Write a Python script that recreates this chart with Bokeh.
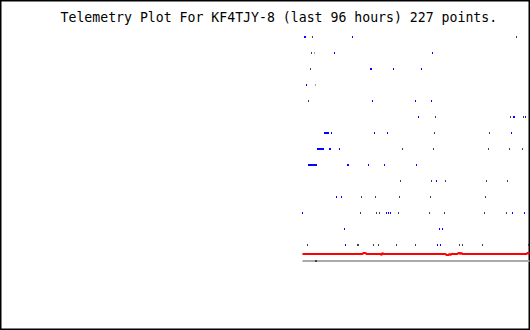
from bokeh.plotting import figure
from bokeh.models import Range1d, Label
from bokeh.embed import file_html
from bokeh.resources import INLINE

TITLE = "Telemetry Plot For KF4TJY-8 (last 96 hours) 227 points."

# time in hours relative to now, value in telemetry level units
blue_t = [-40.85, -40.66, -32.15,
          -35.41, -17.66,
          -28.89, -28.71, -24.72, -19.65,
          -40.48,
          -28.53, -20.74, -17.84,
          -20.20, -2.99, -2.81, -0.82,
          -37.22, -37.04, -36.86, -36.68, -36.50, -35.95, -28.17, -25.81, -3.35,
          -38.49, -38.31, -38.13, -37.95, -37.77, -37.58, -37.40, -36.32, -36.14, -34.51,
          -40.12, -39.94, -39.76, -39.58, -39.40, -39.21, -39.03, -38.85, -38.67, -33.06, -32.88, -29.25, -26.35, -20.56,
          -16.94,
          -35.05, -34.14,
          -41.21, -25.99, -25.63, -25.27, -3.17, -1.00,
          -33.60, -16.39, -15.85,
          -33.42, -16.75, -16.21]
blue_v = [13, 13, 13,
          12, 12,
          11, 11, 11, 11,
          10,
          9, 9, 9,
          8, 8, 8, 8,
          7, 7, 7, 7, 7, 7, 7, 7, 7,
          6, 6, 6, 6, 6, 6, 6, 6, 6, 6,
          5, 5, 5, 5, 5, 5, 5, 5, 5, 5, 5, 5, 5, 5,
          4,
          3, 3,
          2, 2, 2, 2, 2, 2,
          1, 1, 1,
          0, 0, 0]

dark_t = [-39.40, -2.45,
          -39.58,
          -39.76,
          -40.12,
          -17.12, -3.53, -1.18,
          -17.30, -7.34,
          -23.09, -17.48, -7.52, -3.71, -1.36,
          -23.46, -17.84, -15.31, -7.88, -4.08,
          -30.52, -27.98, -23.64, -18.02, -8.06,
          -30.70, -27.80, -27.26, -23.82, -18.20, -15.49, -8.24, -4.26,
          -40.30, -31.25, -31.06, -28.35, -27.44, -24.18, -20.74, -12.77, -12.23, -8.60, -0.27,
          -38.85, -38.67]
dark_v = [13, 13,
          12,
          11,
          9,
          8, 8, 8,
          7, 7,
          6, 6, 6, 6, 6,
          4, 4, 4, 4, 4,
          3, 3, 3, 3, 3,
          2, 2, 2, 2, 2, 2, 2, 2,
          0, 0, 0, 0, 0, 0, 0, 0, 0, 0, 0,
          -1.0, -1.0]

light_t = [-39.03, -38.85]
light_v = [12, 10]

red_t = [-41.21, -30.34, -30.16, -29.80, -29.61, -27.08, -26.90, -26.72, -26.54,
         -15.31, -15.12, -14.76, -14.58, -14.40, -14.22, -13.13, -12.95, -12.77,
         -12.59, -12.41, -12.23, -0.63, -0.45, -0.27, -0.09]
red_v = [-0.5625, -0.5625, -0.5, -0.5, -0.5625, -0.5625, -0.625, -0.5, -0.5625,
         -0.5625, -0.625, -0.625, -0.5625, -0.625, -0.5625, -0.5625, -0.5, -0.5,
         -0.5625, -0.5, -0.5625, -0.5625, -0.5, -0.5, -0.5625]

gray_t = [-41.21, -0.09]
gray_v = [-1.0, -1.0]

# ranges nudged by half a pixel to compensate for the renderer's 0.5px offset
p = figure(width=530, height=330, x_range=Range1d(-95.9094, 0.0906), y_range=Range1d(-5.34375, 15.28125),
           min_border=0, toolbar_location=None, output_backend="svg",
           x_axis_location=None, y_axis_location=None)
p.grid.visible = False
p.outline_line_color = "black"
p.outline_line_width = 2
p.background_fill_color = "white"
p.border_fill_color = "white"

p.line(gray_t, gray_v, line_width=2, color="#aaaaaa")
p.line(red_t, red_v, line_width=2, color="#ff0000")
p.rect(light_t, light_v, width=1, height=2, width_units="screen", height_units="screen",
       fill_color="#a0a0a0", line_color=None)
p.rect(dark_t, dark_v, width=1, height=2, width_units="screen", height_units="screen",
       fill_color="#404040", line_color=None)
p.rect(blue_t, blue_v, width=1, height=2, width_units="screen", height_units="screen",
       fill_color="#0000ff", line_color=None)

p.add_layout(Label(x=60, y=313, x_units="screen", y_units="screen", text=TITLE,
                   text_font="DejaVu Sans Mono", text_font_size="13.2px",
                   text_color="black", text_baseline="alphabetic"))

open("out.html", "w").write(file_html(p, INLINE))
